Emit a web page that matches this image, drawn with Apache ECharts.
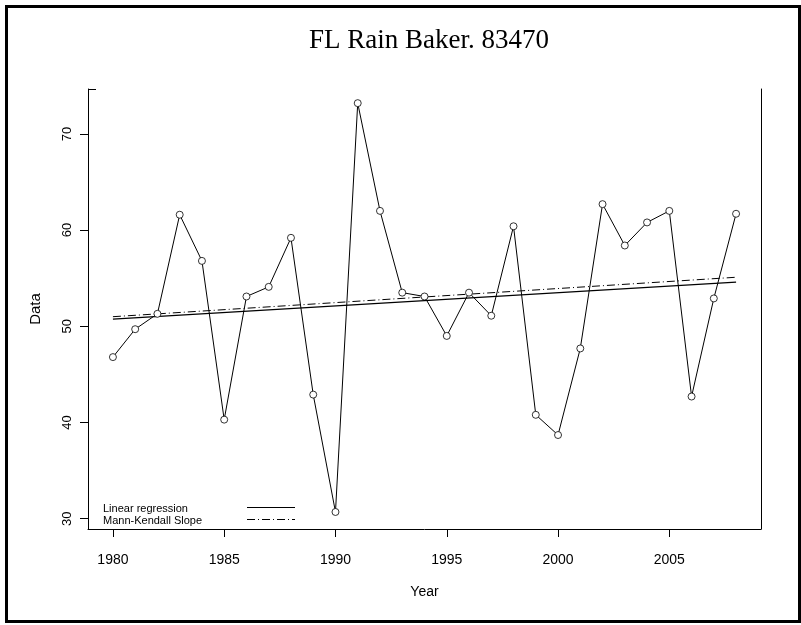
<!DOCTYPE html>
<html>
<head>
<meta charset="utf-8">
<title>FL Rain Baker. 83470</title>
<script src="https://cdn.jsdelivr.net/npm/echarts@6/dist/echarts.min.js"></script>
<style>
  html, body { margin: 0; padding: 0; background: #fff; }
  #chart { width: 801px; height: 625px; }
</style>
</head>
<body>
<div id="chart"></div>
<script>
// Annual rainfall series, station Baker 83470
const years = [1980, 1981, 1982, 1983, 1984, 1985, 1986, 1987, 1988, 1989,
               1990, 1991, 1992, 1993, 1994, 1995, 1996, 1997, 1998, 1999,
               2000, 2001, 2002, 2003, 2004, 2005, 2006, 2007, 2008];
const rain = [46.8, 49.7, 51.3, 61.6, 56.8, 40.3, 53.1, 54.1, 59.2, 42.9,
              30.7, 73.2, 62.0, 53.5, 53.1, 49.0, 53.5, 51.1, 60.4, 40.8,
              38.7, 47.7, 62.7, 58.4, 60.8, 62.0, 42.7, 52.9, 61.7];

// Trend lines: value at first and last year
const trendYears = [1980, 2008];
const linearFit = [50.75, 54.6];
const kendallFit = [51.0, 55.1];

// Axis ticks
const xTicks = [1980, 1985, 1990, 1995, 2000, 2005];
const yTicks = [30, 40, 50, 60, 70];

// Legend entries
const legendNames = ['Linear regression', 'Mann-Kendall Slope'];

const axisFont = 'Liberation Sans, Arial, sans-serif';
const dashDot = [8, 3, 1, 3];

const pairs = (xs, ys) => xs.map((x, i) => [x, ys[i]]);

const chart = echarts.init(document.getElementById('chart'), null, { renderer: 'canvas' });

// Legend key: label on the left, line sample on the right
const legendGraphics = [];
legendNames.forEach((name, i) => {
  const y = 509 + i * 11.5;
  const ly = Math.round(y) - 1.5;
  legendGraphics.push({
    type: 'text', silent: true, x: 103, y: y,
    style: { text: name, fill: '#000', font: '11px ' + axisFont, textVerticalAlign: 'middle', textAlign: 'left' }
  });
  legendGraphics.push({
    type: 'line', silent: true,
    shape: { x1: 247, y1: ly, x2: 295, y2: ly },
    style: { stroke: '#000', lineWidth: 1, lineDash: i === 0 ? null : dashDot }
  });
});

chart.setOption({
  animation: false,
  backgroundColor: '#fff',
  title: {
    text: 'FL Rain Baker. 83470',
    left: 424, top: 22, textAlign: 'center',
    textStyle: { fontFamily: 'Liberation Serif, Times New Roman, serif', fontSize: 27, fontWeight: 'normal', color: '#000' }
  },
  grid: { left: 88, right: 40, top: 89, bottom: 96, containLabel: false },
  xAxis: {
    type: 'value', min: 1978.88, max: 2009.12,
    name: 'Year', nameLocation: 'middle', nameGap: 56,
    nameTextStyle: { fontFamily: axisFont, fontSize: 14, color: '#000' },
    axisLine: { show: true, onZero: false, lineStyle: { color: '#000', width: 1 } },
    axisTick: { show: true, customValues: xTicks, length: 8, lineStyle: { color: '#000' } },
    axisLabel: { customValues: xTicks, margin: 24, fontFamily: axisFont, fontSize: 14, color: '#000',
                 formatter: v => String(v) },
    splitLine: { show: false }
  },
  yAxis: [{
    type: 'value', min: 28.93, max: 74.67,
    name: 'Data', nameLocation: 'middle', nameGap: 45, nameRotate: 90,
    nameTextStyle: { fontFamily: axisFont, fontSize: 15, color: '#000' },
    axisLine: { show: true, onZero: false, lineStyle: { color: '#000', width: 1 } },
    axisTick: { show: true, customValues: yTicks, length: 8, lineStyle: { color: '#000' } },
    axisLabel: { customValues: yTicks, rotate: 90, margin: 14, fontFamily: axisFont, fontSize: 13, color: '#000',
                 formatter: v => String(v) },
    splitLine: { show: false }
  }, {
    type: 'value', min: 28.93, max: 74.67, position: 'right',
    axisLine: { show: true, onZero: false, lineStyle: { color: '#000', width: 1 } },
    axisTick: { show: false }, axisLabel: { show: false }, splitLine: { show: false }
  }],
  graphic: [{
    type: 'rect', silent: true,
    shape: { x: 6.5, y: 6.5, width: 793, height: 615 },
    style: { fill: null, stroke: '#000', lineWidth: 3 }
  }, {
    type: 'line', silent: true,
    shape: { x1: 88, y1: 89.5, x2: 96, y2: 89.5 },
    style: { stroke: '#000', lineWidth: 1 }
  }].concat(legendGraphics),
  series: [{
    name: 'Data', type: 'line',
    data: pairs(years, rain),
    symbol: 'circle', symbolSize: 7, showSymbol: true,
    lineStyle: { color: '#000', width: 1 },
    itemStyle: { color: '#fff', borderColor: '#000', borderWidth: 0.8 },
    z: 3
  }, {
    name: legendNames[0], type: 'line',
    data: pairs(trendYears, linearFit),
    symbol: 'none',
    lineStyle: { color: '#000', width: 1.2, type: 'solid' }
  }, {
    name: legendNames[1], type: 'line',
    data: pairs(trendYears, kendallFit),
    symbol: 'none',
    lineStyle: { color: '#000', width: 1, type: dashDot }
  }]
});
</script>
</body>
</html>
